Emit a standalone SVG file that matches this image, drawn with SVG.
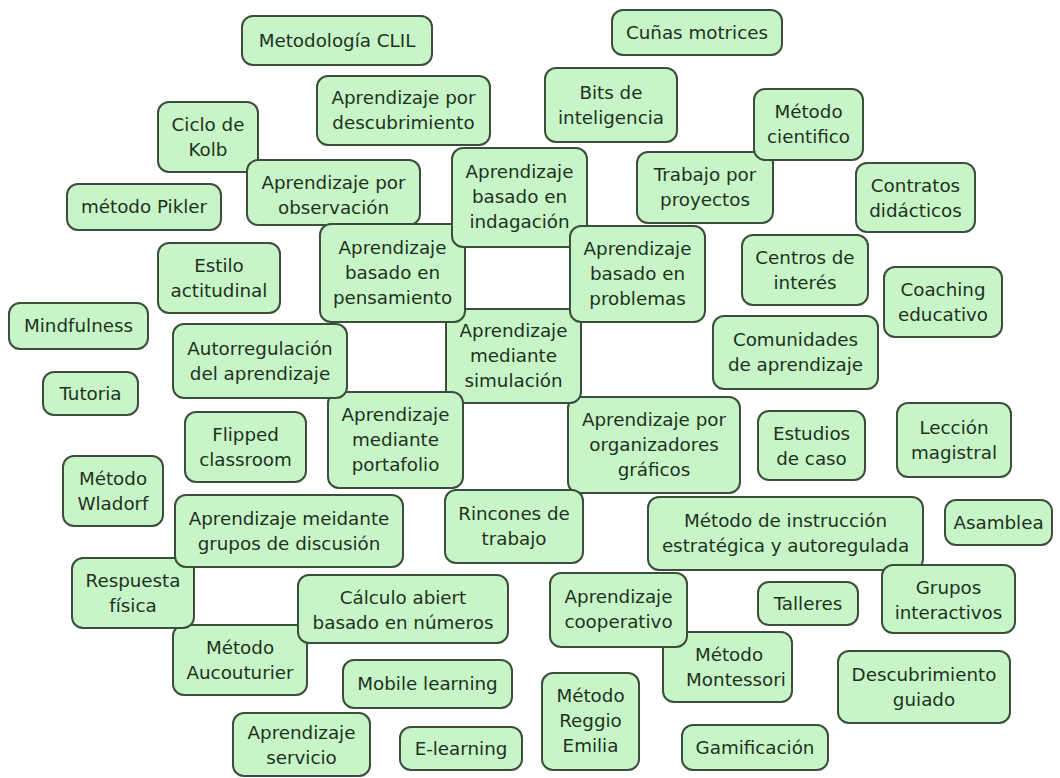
<svg xmlns="http://www.w3.org/2000/svg" width="1060" height="778" viewBox="0 0 1060 778">
  <style>
    .box { fill: #c8f5c8; stroke: #3b4d3b; stroke-width: 2; }
    .lbl { font-family: "DejaVu Sans", Verdana, sans-serif; font-size: 18.3px; fill: #1d321d; text-anchor: middle; }
  </style>
  <rect width="1060" height="778" fill="#ffffff"/>
  <g id="connectors"/>
  <g id="nodes">
    <g id="n-clil"><rect class="box" x="242" y="16" width="190" height="49" rx="11"/><text class="lbl" x="337" y="47">Metodología CLIL</text></g>
    <g id="n-cunas"><rect class="box" x="612" y="10" width="170" height="45" rx="11"/><text class="lbl" x="697" y="39">Cuñas motrices</text></g>
    <g id="n-descubrimiento"><rect class="box" x="317" y="76" width="173" height="69" rx="11"/><text class="lbl" x="403.5" y="104">Aprendizaje por</text><text class="lbl" x="403.5" y="129">descubrimiento</text></g>
    <g id="n-bits"><rect class="box" x="545" y="68" width="132" height="74" rx="11"/><text class="lbl" x="611" y="99">Bits de</text><text class="lbl" x="611" y="124">inteligencia</text></g>
    <g id="n-kolb"><rect class="box" x="158" y="102" width="100" height="70" rx="11"/><text class="lbl" x="208" y="131">Ciclo de</text><text class="lbl" x="208" y="156">Kolb</text></g>
    <g id="n-pikler"><rect class="box" x="67" y="184" width="154" height="46" rx="11"/><text class="lbl" x="144" y="213">método Pikler</text></g>
    <g id="n-observacion"><rect class="box" x="247" y="160" width="173" height="65" rx="11"/><text class="lbl" x="333.5" y="189">Aprendizaje por</text><text class="lbl" x="333.5" y="214">observación</text></g>
    <g id="n-proyectos"><rect class="box" x="637" y="152" width="136" height="71" rx="11"/><text class="lbl" x="705" y="181">Trabajo por</text><text class="lbl" x="705" y="206">proyectos</text></g>
    <g id="n-cientifico"><rect class="box" x="754" y="89" width="109" height="71" rx="11"/><text class="lbl" x="808.5" y="118">Método</text><text class="lbl" x="808.5" y="143">cientifico</text></g>
    <g id="n-contratos"><rect class="box" x="856" y="163" width="119" height="69" rx="11"/><text class="lbl" x="915.5" y="192">Contratos</text><text class="lbl" x="915.5" y="217">didácticos</text></g>
    <g id="n-estilo"><rect class="box" x="158" y="243" width="122" height="70" rx="11"/><text class="lbl" x="219" y="272">Estilo</text><text class="lbl" x="219" y="297">actitudinal</text></g>
    <g id="n-organizadores"><rect class="box" x="568" y="397" width="172" height="96" rx="11"/><text class="lbl" x="654" y="426">Aprendizaje por</text><text class="lbl" x="654" y="451">organizadores</text><text class="lbl" x="654" y="476">gráficos</text></g>
    <g id="n-simulacion"><rect class="box" x="446" y="309" width="135" height="94" rx="11"/><text class="lbl" x="513.5" y="337">Aprendizaje</text><text class="lbl" x="513.5" y="362">mediante</text><text class="lbl" x="513.5" y="387">simulación</text></g>
    <g id="n-pensamiento"><rect class="box" x="320" y="224" width="145" height="98" rx="11"/><text class="lbl" x="392.5" y="254">Aprendizaje</text><text class="lbl" x="392.5" y="279">basado en</text><text class="lbl" x="392.5" y="304">pensamiento</text></g>
    <g id="n-indagacion"><rect class="box" x="452" y="148" width="135" height="99" rx="11"/><text class="lbl" x="519.5" y="178">Aprendizaje</text><text class="lbl" x="519.5" y="203">basado en</text><text class="lbl" x="519.5" y="228">indagación</text></g>
    <g id="n-problemas"><rect class="box" x="570" y="226" width="135" height="96" rx="11"/><text class="lbl" x="637.5" y="255">Aprendizaje</text><text class="lbl" x="637.5" y="280">basado en</text><text class="lbl" x="637.5" y="305">problemas</text></g>
    <g id="n-centros"><rect class="box" x="742" y="235" width="126" height="70" rx="11"/><text class="lbl" x="805" y="264">Centros de</text><text class="lbl" x="805" y="289">interés</text></g>
    <g id="n-coaching"><rect class="box" x="884" y="267" width="118" height="70" rx="11"/><text class="lbl" x="943" y="296">Coaching</text><text class="lbl" x="943" y="321">educativo</text></g>
    <g id="n-mindfulness"><rect class="box" x="9" y="303" width="139" height="46" rx="11"/><text class="lbl" x="78.5" y="332">Mindfulness</text></g>
    <g id="n-portafolio"><rect class="box" x="328" y="392" width="135" height="96" rx="11"/><text class="lbl" x="395.5" y="421">Aprendizaje</text><text class="lbl" x="395.5" y="446">mediante</text><text class="lbl" x="395.5" y="471">portafolio</text></g>
    <g id="n-autorregulacion"><rect class="box" x="173" y="324" width="174" height="74" rx="11"/><text class="lbl" x="260" y="355">Autorregulación</text><text class="lbl" x="260" y="380">del aprendizaje</text></g>
    <g id="n-comunidades"><rect class="box" x="713" y="316" width="165" height="73" rx="11"/><text class="lbl" x="795.5" y="346">Comunidades</text><text class="lbl" x="795.5" y="371">de aprendizaje</text></g>
    <g id="n-tutoria"><rect class="box" x="43" y="372" width="95" height="43" rx="11"/><text class="lbl" x="90.5" y="400">Tutoria</text></g>
    <g id="n-flipped"><rect class="box" x="185" y="412" width="121" height="70" rx="11"/><text class="lbl" x="245.5" y="441">Flipped</text><text class="lbl" x="245.5" y="466">classroom</text></g>
    <g id="n-estudios"><rect class="box" x="758" y="411" width="107" height="69" rx="11"/><text class="lbl" x="811.5" y="440">Estudios</text><text class="lbl" x="811.5" y="465">de caso</text></g>
    <g id="n-leccion"><rect class="box" x="897" y="403" width="114" height="74" rx="11"/><text class="lbl" x="954" y="434">Lección</text><text class="lbl" x="954" y="459">magistral</text></g>
    <g id="n-wladorf"><rect class="box" x="63" y="456" width="100" height="70" rx="11"/><text class="lbl" x="113" y="485">Método</text><text class="lbl" x="113" y="510">Wladorf</text></g>
    <g id="n-rincones"><rect class="box" x="445" y="490" width="138" height="73" rx="11"/><text class="lbl" x="514" y="520">Rincones de</text><text class="lbl" x="514" y="545">trabajo</text></g>
    <g id="n-instruccion"><rect class="box" x="648" y="497" width="275" height="73" rx="11"/><text class="lbl" x="785.5" y="527">Método de instrucción</text><text class="lbl" x="785.5" y="552">estratégica y autoregulada</text></g>
    <g id="n-asamblea"><rect class="box" x="945" y="500" width="107" height="45" rx="11"/><text class="lbl" x="998.5" y="529">Asamblea</text></g>
    <g id="n-aucouturier"><rect class="box" x="173" y="625" width="134" height="70" rx="11"/><text class="lbl" x="240" y="654">Método</text><text class="lbl" x="240" y="679">Aucouturier</text></g>
    <g id="n-respuesta"><rect class="box" x="72" y="558" width="122" height="70" rx="11"/><text class="lbl" x="133" y="587">Respuesta</text><text class="lbl" x="133" y="612">física</text></g>
    <g id="n-discusion"><rect class="box" x="175" y="495" width="228" height="72" rx="11"/><text class="lbl" x="289" y="525">Aprendizaje meidante</text><text class="lbl" x="289" y="550">grupos de discusión</text></g>
    <g id="n-calculo"><rect class="box" x="298" y="575" width="210" height="68" rx="11"/><text class="lbl" x="403" y="604">Cálculo abiert</text><text class="lbl" x="403" y="629">basado en números</text></g>
    <g id="n-montessori"><rect class="box" x="663" y="632" width="129" height="70" rx="11"/><text class="lbl" x="729" y="661">Método</text><text class="lbl" x="736" y="686">Montessori</text></g>
    <g id="n-cooperativo"><rect class="box" x="550" y="573" width="137" height="74" rx="11"/><text class="lbl" x="618.5" y="603">Aprendizaje</text><text class="lbl" x="618.5" y="628">cooperativo</text></g>
    <g id="n-talleres"><rect class="box" x="758" y="582" width="100" height="43" rx="11"/><text class="lbl" x="808" y="610">Talleres</text></g>
    <g id="n-interactivos"><rect class="box" x="882" y="565" width="133" height="68" rx="11"/><text class="lbl" x="948.5" y="594">Grupos</text><text class="lbl" x="948.5" y="619">interactivos</text></g>
    <g id="n-mobile"><rect class="box" x="343" y="660" width="169" height="48" rx="11"/><text class="lbl" x="427.5" y="690">Mobile learning</text></g>
    <g id="n-guiado"><rect class="box" x="838" y="651" width="172" height="72" rx="11"/><text class="lbl" x="924" y="681">Descubrimiento</text><text class="lbl" x="924" y="706">guiado</text></g>
    <g id="n-servicio"><rect class="box" x="233" y="713" width="137" height="63" rx="11"/><text class="lbl" x="301.5" y="739">Aprendizaje</text><text class="lbl" x="301.5" y="764">servicio</text></g>
    <g id="n-elearning"><rect class="box" x="400" y="727" width="122" height="43" rx="11"/><text class="lbl" x="461" y="755">E-learning</text></g>
    <g id="n-reggio"><rect class="box" x="542" y="673" width="97" height="97" rx="11"/><text class="lbl" x="590.5" y="702">Método</text><text class="lbl" x="590.5" y="727">Reggio</text><text class="lbl" x="590.5" y="752">Emilia</text></g>
    <g id="n-gamificacion"><rect class="box" x="682" y="725" width="146" height="45" rx="11"/><text class="lbl" x="755" y="754">Gamificación</text></g>
  </g>
</svg>
